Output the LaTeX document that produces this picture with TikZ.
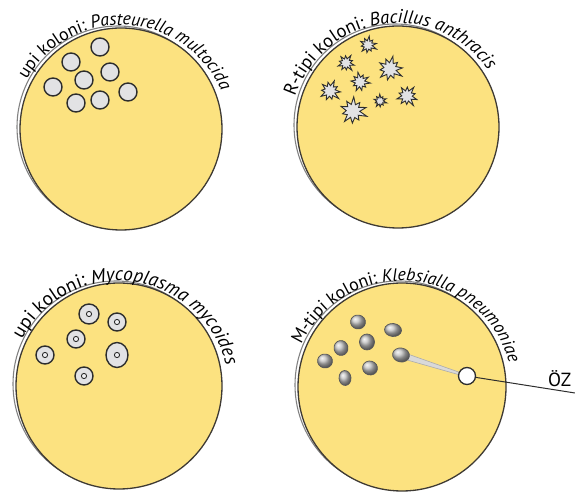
\documentclass[tikz,border=0pt]{standalone}
\usepackage{fontspec}
\setmainfont{PT Sans}
\usetikzlibrary{decorations.text}

\definecolor{agarY}{RGB}{252,226,128}
\definecolor{rimdark}{RGB}{62,58,52}
\definecolor{rimgrey}{RGB}{130,130,130}
\definecolor{inkdark}{RGB}{45,45,45}
\definecolor{colgrey}{RGB}{226,226,228}

% petri dish: grey rim behind, agar disc in front
\newcommand\petri[3]{%
  \draw[rimline] (#1-3,#2+2) circle[radius=#3];
  \filldraw[agar] (#1,#2) circle[radius=#3];}

% curved caption above a dish: centre x, centre y, radius, start angle, font size, text
\newcommand\arclabel[6]{%
  \def\lf{\fontsize{#5}{#5}\selectfont}%
  \path[decorate,decoration={text along path,text={#6},text align=left}]
    ([shift={(#4:#3)}]#1,#2) arc[start angle=#4,end angle=-80,radius=#3];}

% rough colony: irregular ten-point star
\newcommand\spikystar[4]{%
  \filldraw[spiky,shift={(#1,#2)},rotate=#4]
   (0:#3) -- (18:.5*#3) -- (36:.8*#3) -- (54:.5*#3) -- (72:1.05*#3)
   -- (90:.5*#3) -- (108:.85*#3) -- (126:.5*#3) -- (144:.95*#3)
   -- (162:.5*#3) -- (180:.8*#3) -- (198:.5*#3) -- (216:1*#3)
   -- (234:.5*#3) -- (252:.9*#3) -- (270:.5*#3) -- (288:.8*#3)
   -- (306:.5*#3) -- (324:1.1*#3) -- (342:.5*#3) -- cycle;}

% fried-egg colony
\newcommand\friedegg[4]{%
  \filldraw[egg] (#1,#2) ellipse[x radius=#3,y radius=#4];
  \filldraw[yolk] (#1,#2) circle[radius=2.6];}

% mucoid colony
\newcommand\mucoid[5]{%
  \shadedraw[blob,rotate around={#5:(#1,#2)}] (#1,#2) ellipse[x radius=#3,y radius=#4];}

\begin{document}
\begin{tikzpicture}[x=1pt,y=1pt,
  agar/.style={fill=agarY,draw=rimdark,line width=1.3},
  rimline/.style={draw=rimgrey,line width=1.1},
  smoothcol/.style={fill=colgrey,draw=inkdark,line width=1.4},
  spiky/.style={fill=colgrey,draw=inkdark,line width=0.9,line join=miter},
  egg/.style={fill=colgrey,draw=inkdark,line width=1.4},
  yolk/.style={fill=colgrey!50!white,draw=inkdark,line width=0.9},
  blob/.style={draw=gray!70!black,line width=0.7,ball color=gray!50},
  tailstyle/.style={fill=gray!30,draw=gray!65,line width=0.6},
  marker/.style={circle,draw=inkdark,fill=white,line width=1.3,minimum size=17,inner sep=0},
  leader/.style={draw=inkdark,line width=1},
  oztext/.style={font=\fontsize{19}{22}\selectfont,inner sep=0}]
\useasboundingbox (0,0) rectangle (575,492);
\clip (0,0) rectangle (575,492);

% dishes
\petri{121}{363}{101}
\petri{398}{365}{101}
\petri{119}{106}{103}
\petri{402}{105}{104}

% captions
\arclabel{121}{358}{109}{150}{17.8}{|\lf|upi koloni: |\lf\itshape|Pasteurella multocida}
\arclabel{398}{360}{109}{161}{18.6}{|\lf|R-tipi koloni: |\lf\itshape|Bacillus anthracis}
\arclabel{119}{101}{110}{152}{19.3}{|\lf|upi koloni: |\lf\itshape|Mycoplasma mycoides}
\arclabel{402}{100}{111}{155}{17.8}{|\lf|M-tipi koloni: |\lf\itshape|Klebsialla pneumoniae}

% smooth colonies
\foreach \x/\y in {100/445,71/430,110/420,84/412,53/405,128/400,100/392,76/389}
  \filldraw[smoothcol] (\x,\y) circle[radius=9];

% rough colonies
\spikystar{368}{447}{8.5}{10}
\spikystar{346}{429}{8.5}{-15}
\spikystar{390}{423}{12.5}{5}
\spikystar{360}{410}{9.5}{30}
\spikystar{330}{401}{10.5}{-5}
\spikystar{380}{391}{6.5}{20}
\spikystar{407}{396}{10.5}{-20}
\spikystar{353}{381}{13.5}{15}

% fried-egg colonies
\friedegg{89}{178}{10}{10}
\friedegg{117}{170}{9}{9}
\friedegg{76}{153}{9}{9}
\friedegg{45}{137}{9}{9}
\friedegg{117}{137}{11}{12.5}
\friedegg{84}{116}{9}{9}

% mucoid colonies
\mucoid{358}{170}{7.5}{7}{-10}
\mucoid{393}{162}{8.5}{6.5}{-5}
\mucoid{367}{150}{7.5}{8}{0}
\mucoid{341}{144}{7}{7.5}{10}
\mucoid{325}{131}{7.5}{7}{-10}
\mucoid{370}{124}{7.5}{7}{-15}
\mucoid{345}{114}{6}{7.5}{5}

% pointed colony with its leader line
\coordinate (mk) at (467,116);
\filldraw[tailstyle] (402,140) -- (467,117) -- (467,115) -- (400,134) -- cycle;
\mucoid{401}{137}{8.5}{7}{-10}
\node[marker] (marker) at (mk) {};
\coordinate (edge) at (575,99);
\draw[leader] (marker) -- (edge);
\node[oztext,anchor=base west] (oz) at (548,105) {ÖZ};
\end{tikzpicture}
\end{document}
